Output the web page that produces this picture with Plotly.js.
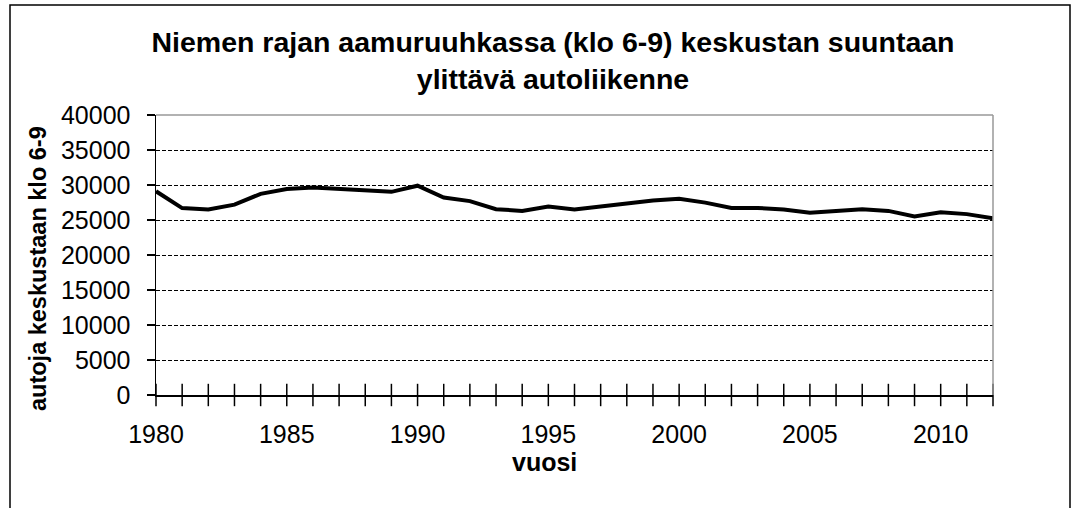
<!DOCTYPE html>
<html>
<head>
<meta charset="utf-8">
<script src="https://cdn.plot.ly/plotly-3.0.1.min.js"></script>
<style>html,body{margin:0;padding:0;background:#fff;}#chart{width:1076px;height:508px;}</style>
</head>
<body>
<div id="chart"></div>
<script>
const years = [1980,1981,1982,1983,1984,1985,1986,1987,1988,1989,1990,1991,1992,1993,1994,1995,1996,1997,1998,1999,2000,2001,2002,2003,2004,2005,2006,2007,2008,2009,2010,2011,2012];
const cars = [29100,26700,26500,27200,28740,29440,29660,29480,29250,29020,29900,28220,27700,26540,26300,26920,26500,26960,27290,27800,28040,27480,26730,26730,26500,26030,26300,26540,26300,25520,26120,25840,25240];
const xTickVals = [1980,1985,1990,1995,2000,2005,2010];
const yTickVals = [0,5000,10000,15000,20000,25000,30000,35000,40000];
const titleText = 'Niemen rajan aamuruuhkassa (klo 6-9) keskustan suuntaan<br>ylittävä autoliikenne';
const yTitle = 'autoja keskustaan klo 6-9';
const xTitle = 'vuosi';

const FONT = 'Liberation Sans, Arial, sans-serif';

const traces = [
  {
    x: years, y: cars, type: 'scatter', mode: 'lines',
    line: {color: '#000', width: 4}, hoverinfo: 'skip', showlegend: false
  },
  {
    x: years, y: years.map(() => 0), type: 'scatter', mode: 'markers',
    marker: {symbol: 'line-ns-open', size: 16, color: '#000', line: {color: '#000', width: 1.5}},
    cliponaxis: false, hoverinfo: 'skip', showlegend: false
  }
];

const layout = {
  width: 1076, height: 508,
  margin: {l: 156, r: 83, t: 115, b: 113},
  paper_bgcolor: '#fff', plot_bgcolor: '#fff',
  font: {family: FONT, color: '#000'},
  title: {
    text: titleText,
    font: {family: FONT, size: 28.5, weight: 'bold', color: '#000'},
    xref: 'container', x: 553/1076, xanchor: 'center',
    yref: 'container', y: 1 - 52/508, yanchor: 'top'
  },
  xaxis: {
    range: [1980, 2012], tickvals: xTickVals, ticktext: xTickVals.map(String),
    showgrid: false, zeroline: false,
    showline: true, linecolor: '#000', linewidth: 1.5,
    ticks: '', ticklabelstandoff: 16,
    tickfont: {family: FONT, size: 25, color: '#000'}
  },
  yaxis: {
    range: [0, 40000], tickvals: yTickVals, ticktext: yTickVals.map(String),
    showgrid: true, gridcolor: '#000', gridwidth: 1, griddash: '4px,2px',
    zeroline: false,
    showline: true, linecolor: '#000', linewidth: 1.5,
    ticks: 'outside', ticklen: 8, tickwidth: 1.5, tickcolor: '#000',
    ticklabelstandoff: 11,
    tickfont: {family: FONT, size: 25, color: '#000'}
  },
  shapes: [
    {type: 'line', xref: 'paper', yref: 'paper', x0: 0, x1: 1, y0: 1, y1: 1,
     line: {color: '#999', width: 1.5}, layer: 'above'},
    {type: 'line', xref: 'paper', yref: 'paper', x0: 1, x1: 1, y0: 0, y1: 1,
     line: {color: '#999', width: 1.5}, layer: 'above'},
    {type: 'rect', xref: 'paper', yref: 'paper',
     x0: (10-156)/837, x1: (1070-156)/837, y0: (395-515)/280, y1: (395-5)/280,
     line: {color: '#000', width: 1.5}, fillcolor: 'rgba(0,0,0,0)'}
  ],
  annotations: [
    {text: yTitle, textangle: -90, showarrow: false,
     xref: 'paper', yref: 'paper', x: (38-156)/837, y: (395-269)/280,
     xanchor: 'center', yanchor: 'middle',
     font: {family: FONT, size: 23.5, weight: 'bold', color: '#000'}},
    {text: xTitle, showarrow: false,
     xref: 'paper', yref: 'paper', x: (544.5-156)/837, y: (395-462)/280,
     xanchor: 'center', yanchor: 'middle',
     font: {family: FONT, size: 25, weight: 'bold', color: '#000'}}
  ]
};

Plotly.newPlot('chart', traces, layout, {displayModeBar: false, staticPlot: true});
</script>
</body>
</html>
